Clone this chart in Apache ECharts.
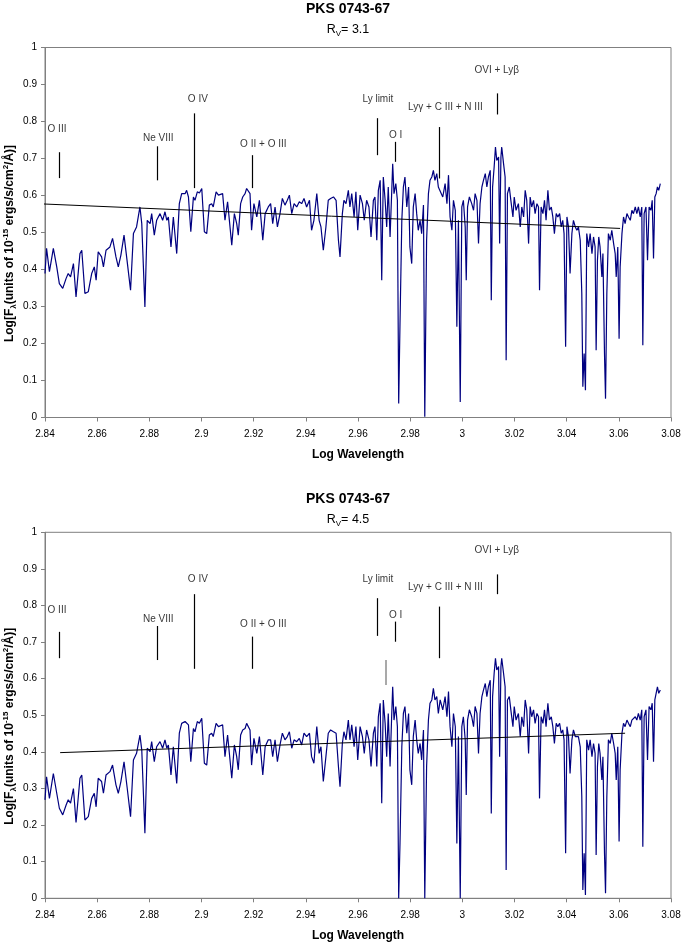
<!DOCTYPE html>
<html lang="en">
<head>
<meta charset="UTF-8">
<title>PKS 0743-67</title>
<script src="https://cdn.jsdelivr.net/npm/echarts@6/dist/echarts.min.js"></script>
<style>
  html, body { margin: 0; padding: 0; background: #fff; }
</style>
</head>
<body>
<div id="main" style="width: 681px;height: 942px"></div>
<script>
// log wavelength samples (shared by both panels)
const logWave = [
  2.8400,2.8406,2.8417,2.8432,2.8445,2.8455,2.8468,2.8481,2.8489,2.8498,
  2.8509,2.8519,2.8534,2.8541,2.8553,2.8566,2.8579,2.8589,2.8596,2.8604,
  2.8617,2.8624,2.8634,2.8649,2.8659,2.8672,2.8681,2.8691,2.8703,2.8716,
  2.8728,2.8739,2.8751,2.8764,2.8771,2.8783,2.8792,2.8803,2.8809,2.8819,
  2.8828,2.8841,2.8851,2.8860,2.8867,2.8873,2.8883,2.8892,2.8905,2.8915,
  2.8924,2.8937,2.8943,2.8950,2.8959,2.8969,2.8975,2.8984,2.8992,2.9001,
  2.9011,2.9020,2.9030,2.9039,2.9045,2.9056,2.9065,2.9071,2.9081,2.9090,
  2.9100,2.9107,2.9116,2.9126,2.9135,2.9141,2.9150,2.9158,2.9167,2.9173,
  2.9186,2.9192,2.9201,2.9212,2.9222,2.9235,2.9244,2.9256,2.9265,2.9273,
  2.9282,2.9291,2.9301,2.9310,2.9320,2.9329,2.9337,2.9346,2.9355,2.9365,
  2.9375,2.9384,2.9393,2.9403,2.9414,2.9422,2.9431,2.9442,2.9451,2.9458,
  2.9467,2.9477,2.9486,2.9495,2.9506,2.9516,2.9525,2.9531,2.9540,2.9546,
  2.9554,2.9563,2.9569,2.9576,2.9585,2.9592,2.9599,2.9608,2.9617,2.9624,
  2.9633,2.9642,2.9650,2.9659,2.9665,2.9672,2.9678,2.9685,2.9691,2.9697,
  2.9704,2.9710,2.9716,2.9723,2.9729,2.9733,2.9738,2.9745,2.9751,2.9756,
  2.9761,2.9768,2.9774,2.9780,2.9787,2.9794,2.9799,2.9806,2.9812,2.9819,
  2.9825,2.9831,2.9838,2.9844,2.9851,2.9856,2.9860,2.9863,2.9870,2.9876,
  2.9883,2.9889,2.9895,2.9902,2.9908,
  2.9915,2.9925,2.9934,2.9941,2.9947,2.9953,2.9960,2.9966,2.9973,2.9979,
  2.9985,2.9992,2.9998,3.0004,3.0011,3.0015,3.0020,3.0027,3.0036,3.0043,
  3.0049,3.0056,3.0062,3.0068,3.0075,3.0081,3.0088,3.0094,3.0100,3.0107,
  3.0111,3.0116,3.0122,3.0127,3.0132,3.0139,3.0143,3.0148,3.0151,3.0158,
  3.0164,3.0168,3.0173,3.0180,3.0186,3.0194,3.0199,3.0206,3.0215,3.0222,
  3.0228,3.0235,3.0241,3.0247,3.0254,3.0260,3.0266,3.0273,3.0279,3.0286,
  3.0292,3.0296,3.0302,3.0309,3.0315,3.0321,3.0328,3.0334,3.0341,3.0347,
  3.0353,3.0360,3.0366,3.0373,3.0379,3.0385,3.0390,3.0396,3.0401,3.0407,
  3.0413,3.0420,3.0426,3.0433,3.0439,3.0445,3.0452,3.0458,3.0462,3.0467,
  3.0472,3.0477,3.0484,3.0490,3.0497,3.0503,3.0509,3.0513,3.0518,3.0523,
  3.0528,3.0535,3.0539,3.0545,3.0549,3.0554,3.0560,3.0567,3.0573,3.0580,
  3.0586,3.0590,3.0596,3.0601,3.0605,3.0612,3.0618,3.0624,3.0631,3.0637,
  3.0644,3.0650,3.0656,3.0663,3.0669,3.0675,3.0682,3.0688,3.0692,3.0697,
  3.0704,3.0710,3.0716,3.0723,3.0728,3.0733,3.0738,3.0743,3.0748,3.0753,
  3.0759
];

// Log F for Rv = 3.1
const fluxRv31 = [
  0.389,0.457,0.394,0.457,0.407,0.362,0.349,0.376,0.389,0.380,
  0.416,0.326,0.443,0.452,0.335,0.340,0.389,0.407,0.371,0.448,
  0.434,0.407,0.452,0.461,0.484,0.434,0.407,0.439,0.493,0.416,
  0.344,0.497,0.515,0.569,0.524,0.299,0.533,0.524,0.551,0.493,
  0.533,0.551,0.533,0.556,0.533,0.542,0.461,0.542,0.443,0.578,
  0.605,0.605,0.614,0.596,0.502,0.596,0.587,0.610,0.607,0.619,
  0.502,0.497,0.574,0.578,0.569,0.610,0.601,0.596,0.605,0.533,
  0.583,0.578,0.466,0.551,0.524,0.493,0.578,0.596,0.605,0.619,
  0.605,0.506,0.578,0.542,0.587,0.479,0.551,0.569,0.578,0.524,
  0.569,0.515,0.551,0.592,0.574,0.587,0.601,0.551,0.578,0.569,
  0.583,0.578,0.592,0.569,0.587,0.506,0.533,0.605,0.533,0.515,
  0.452,0.515,0.587,0.592,0.596,0.587,0.479,0.434,0.551,0.587,
  0.578,0.614,0.569,0.605,0.542,0.610,0.506,0.601,0.578,0.533,
  0.587,0.569,0.488,0.587,0.596,0.479,0.614,0.641,0.371,0.650,
  0.587,0.515,0.623,0.488,0.605,0.686,0.605,0.632,0.587,0.038,
  0.254,0.533,0.623,0.650,0.569,0.623,0.461,0.416,0.569,0.605,
  0.551,0.506,0.533,0.497,0.574,0.002,0.002,0.479,0.605,0.641,
  0.650,0.668,0.641,0.659,0.623,
  0.623,0.596,0.632,0.578,0.655,0.542,0.506,0.587,0.560,0.245,
  0.533,0.042,0.569,0.587,0.515,0.371,0.569,0.596,0.578,0.560,
  0.605,0.587,0.470,0.578,0.623,0.641,0.659,0.623,0.650,0.668,
  0.317,0.623,0.677,0.731,0.695,0.704,0.470,0.704,0.731,0.686,
  0.650,0.155,0.605,0.623,0.587,0.542,0.596,0.560,0.578,0.515,
  0.569,0.542,0.614,0.587,0.470,0.596,0.569,0.587,0.551,0.578,
  0.569,0.344,0.569,0.551,0.587,0.533,0.614,0.560,0.569,0.542,
  0.497,0.551,0.542,0.551,0.515,0.533,0.497,0.191,0.542,0.515,
  0.389,0.497,0.533,0.515,0.506,0.515,0.479,0.335,0.083,0.173,
  0.074,0.497,0.461,0.497,0.443,0.488,0.461,0.182,0.425,0.488,
  0.461,0.380,0.443,0.173,0.051,0.335,0.497,0.479,0.506,0.470,
  0.443,0.380,0.461,0.213,0.407,0.497,0.542,0.524,0.551,0.542,
  0.533,0.560,0.551,0.569,0.551,0.569,0.542,0.569,0.195,0.551,
  0.569,0.425,0.569,0.560,0.587,0.430,0.596,0.605,0.623,0.614,
  0.632
];

// Log F for Rv = 4.5
const fluxRv45 = [
  0.269,0.332,0.273,0.341,0.287,0.246,0.228,0.255,0.269,0.260,
  0.300,0.207,0.328,0.337,0.214,0.223,0.273,0.287,0.250,0.328,
  0.319,0.287,0.337,0.346,0.364,0.310,0.287,0.319,0.373,0.296,
  0.223,0.378,0.396,0.446,0.405,0.178,0.410,0.401,0.428,0.373,
  0.414,0.428,0.410,0.433,0.410,0.419,0.337,0.414,0.314,0.451,
  0.478,0.483,0.487,0.474,0.373,0.464,0.455,0.483,0.478,0.492,
  0.369,0.364,0.446,0.451,0.442,0.478,0.469,0.464,0.474,0.387,
  0.446,0.442,0.328,0.419,0.387,0.351,0.446,0.460,0.464,0.478,
  0.460,0.364,0.437,0.396,0.442,0.337,0.414,0.433,0.433,0.387,
  0.433,0.373,0.419,0.451,0.433,0.442,0.455,0.410,0.433,0.428,
  0.437,0.419,0.451,0.442,0.451,0.387,0.369,0.469,0.396,0.414,
  0.319,0.387,0.451,0.460,0.455,0.451,0.360,0.305,0.423,0.455,
  0.433,0.487,0.433,0.474,0.414,0.469,0.378,0.469,0.442,0.396,
  0.460,0.433,0.360,0.451,0.469,0.360,0.496,0.533,0.260,0.542,
  0.478,0.387,0.505,0.360,0.496,0.578,0.487,0.524,0.469,0.000,
  0.150,0.414,0.505,0.524,0.451,0.505,0.351,0.310,0.442,0.487,
  0.433,0.396,0.423,0.378,0.460,0.000,0.000,0.360,0.487,0.533,
  0.542,0.574,0.542,0.551,0.505,
  0.542,0.515,0.551,0.496,0.565,0.469,0.414,0.505,0.469,0.150,
  0.442,0.000,0.469,0.496,0.433,0.282,0.487,0.515,0.496,0.469,
  0.524,0.505,0.396,0.505,0.551,0.569,0.587,0.551,0.578,0.596,
  0.232,0.551,0.615,0.656,0.624,0.633,0.387,0.633,0.656,0.615,
  0.578,0.077,0.542,0.551,0.515,0.469,0.524,0.487,0.505,0.442,
  0.496,0.469,0.542,0.515,0.396,0.524,0.496,0.515,0.478,0.505,
  0.496,0.273,0.496,0.478,0.515,0.469,0.533,0.487,0.496,0.469,
  0.423,0.478,0.469,0.478,0.451,0.460,0.433,0.123,0.469,0.442,
  0.341,0.433,0.460,0.442,0.442,0.442,0.414,0.278,0.023,0.123,
  0.009,0.433,0.405,0.433,0.387,0.423,0.396,0.118,0.360,0.423,
  0.396,0.323,0.387,0.123,0.014,0.278,0.433,0.423,0.451,0.423,
  0.396,0.323,0.414,0.155,0.351,0.451,0.478,0.469,0.487,0.478,
  0.469,0.487,0.487,0.496,0.487,0.505,0.487,0.515,0.141,0.496,
  0.515,0.378,0.524,0.515,0.533,0.373,0.542,0.560,0.578,0.560,
  0.569
];

// straight continuum fits [x, y]
const fitRv31 = [[2.833, 0.579], [3.0605, 0.511]];
const fitRv45 = [[2.8458, 0.398], [3.0624, 0.451]];

// line identifications
const lineNames = ['O III', 'Ne VIII', 'O IV', 'O II + O III', 'Ly limit', 'O I', 'Ly\u03b3 + C III + N III', 'OVI + Ly\u03b2'];
const lineX     = [2.8456, 2.8829, 2.8973, 2.9195, 2.9674, 2.9743, 2.9912, 3.0132];
const labelX    = [2.8446, 2.8834, 2.8986, 2.9237, 2.9676, 2.9744, 2.9935, 3.0132];
const lowRv31   = [0.647, 0.641, 0.620, 0.620, 0.709, 0.691, 0.646, 0.819];
const highRv31  = [0.717, 0.733, 0.822, 0.709, 0.809, 0.745, 0.785, 0.876];
const labelYRv31 = [0.778, 0.754, 0.859, 0.738, 0.859, 0.763, 0.838, 0.939];
const lowRv45   = [0.656, 0.651, 0.627, 0.627, 0.717, 0.701, 0.656, 0.831];
const highRv45  = [0.728, 0.744, 0.831, 0.715, 0.820, 0.756, 0.797, 0.885];
const labelYRv45 = [0.788, 0.762, 0.872, 0.749, 0.872, 0.774, 0.850, 0.952];
// extra grey marker in the lower panel
const greyMarkRv45 = [2.9708, 0.583, 0.651];

const FONT = "'Liberation Sans', Arial, sans-serif"
const gridTop = [47.5, 532.3]
const gridH = [370, 366]

function yName() {
	return '{b|Log[F}{sb|\u03bb}{b|(units of 10}{sp|-15}{b| ergs/s/cm}{sp|2}{b|/\u00c5)]}'
}

function makeAxes(i) {
	let x = {
		type: 'value', gridIndex: i, min: 2.84, max: 3.08, interval: 0.02,
		name: 'Log Wavelength', nameLocation: 'middle', nameGap: 31,
		nameTextStyle: {fontFamily: FONT, fontSize: 12, fontWeight: 'bold', color: '#000'},
		axisLine: {lineStyle: {color: '#808080'}},
		axisTick: {length: 4, lineStyle: {color: '#808080'}},
		axisLabel: {fontFamily: FONT, fontSize: 10, color: '#000', margin: 12},
		splitLine: {show: false}
	}
	let y = {
		type: 'value', gridIndex: i, min: 0, max: 1, interval: 0.1,
		name: yName(), nameLocation: 'middle', nameGap: 27, nameRotate: 90,
		nameMoveOverlap: false,
		nameTextStyle: {
			padding: [0, 22, 0, 0],
			rich: {
				b: {fontFamily: FONT, fontSize: 12, fontWeight: 'bold', color: '#000', lineHeight: 16},
				sb: {fontFamily: FONT, fontSize: 8, fontWeight: 'bold', color: '#000', lineHeight: 10, verticalAlign: 'bottom'},
				sp: {fontFamily: FONT, fontSize: 8, fontWeight: 'bold', color: '#000', lineHeight: 10, verticalAlign: 'top'}
			}
		},
		axisLine: {show: true, lineStyle: {color: '#808080'}},
		axisTick: {show: true, length: 4, lineStyle: {color: '#808080'}},
		axisLabel: {fontFamily: FONT, fontSize: 10, color: '#000', margin: 8},
		splitLine: {show: false}
	}
	return [x, y]
}

function makeSeries(i, flux, fit, low, high, labelY, extra) {
	let marks = lineX.map(function (x, k) {
		return [{coord: [x, low[k]]}, {coord: [x, high[k]]}]
	})
	if (extra) {
		marks.push([{coord: [extra[0], extra[1]], lineStyle: {color: '#8c8c8c', width: 1.5}}, {coord: [extra[0], extra[2]]}])
	}
	return [
		{
			type: 'line', xAxisIndex: i, yAxisIndex: i, symbol: 'none',
			data: logWave.map(function (x, k) { return [x, flux[k]] }),
			lineStyle: {color: '#000080', width: 1.2}, itemStyle: {color: '#000080'},
			silent: true
		},
		{
			type: 'line', xAxisIndex: i, yAxisIndex: i, symbol: 'none', clip: false,
			data: fit, lineStyle: {color: '#000', width: 1}, silent: true
		},
		{
			type: 'scatter', xAxisIndex: i, yAxisIndex: i, symbolSize: 1,
			itemStyle: {color: 'rgba(0,0,0,0)'},
			data: labelX.map(function (x, k) { return {name: lineNames[k], value: [x, labelY[k]]} }),
			label: {show: true, position: 'inside', formatter: '{b}', color: '#000', fontFamily: FONT, fontSize: 10},
			silent: true,
			markLine: {
				silent: true, symbol: ['none', 'none'],
				label: {show: false},
				lineStyle: {color: '#000', width: 1.2, type: 'solid'},
				data: marks
			}
		}
	]
}

function subTitle(rv) {
	return {
		text: 'PKS 0743-67',
		subtext: '{n|R}{s|V}{n|= ' + rv + '}',
		left: 348, textAlign: 'center', padding: 0, itemGap: 6,
		textStyle: {fontFamily: FONT, fontSize: 14, fontWeight: 'bold', color: '#000'},
		subtextStyle: {
			rich: {
				n: {fontFamily: FONT, fontSize: 12.5, color: '#000', lineHeight: 16},
				s: {fontFamily: FONT, fontSize: 8, color: '#000', lineHeight: 10, verticalAlign: 'bottom'}
			}
		}
	}
}

let mycharts = echarts.init(document.getElementById('main'))
let ax0 = makeAxes(0), ax1 = makeAxes(1)
let t0 = subTitle('3.1'); t0.top = 2
let t1 = subTitle('4.5'); t1.top = 492
mycharts.setOption({
	animation: false,
	backgroundColor: '#fff',
	title: [t0, t1],
	grid: [
		{left: 45, right: 10, top: gridTop[0], height: gridH[0], show: true, borderColor: '#808080', borderWidth: 1, outerBoundsMode: 'none', containLabel: false},
		{left: 45, right: 10, top: gridTop[1], height: gridH[1], show: true, borderColor: '#808080', borderWidth: 1, outerBoundsMode: 'none', containLabel: false}
	],
	xAxis: [ax0[0], ax1[0]],
	yAxis: [ax0[1], ax1[1]],
	series: makeSeries(0, fluxRv31, fitRv31, lowRv31, highRv31, labelYRv31, null)
		.concat(makeSeries(1, fluxRv45, fitRv45, lowRv45, highRv45, labelYRv45, greyMarkRv45))
})
</script>
</body>
</html>
